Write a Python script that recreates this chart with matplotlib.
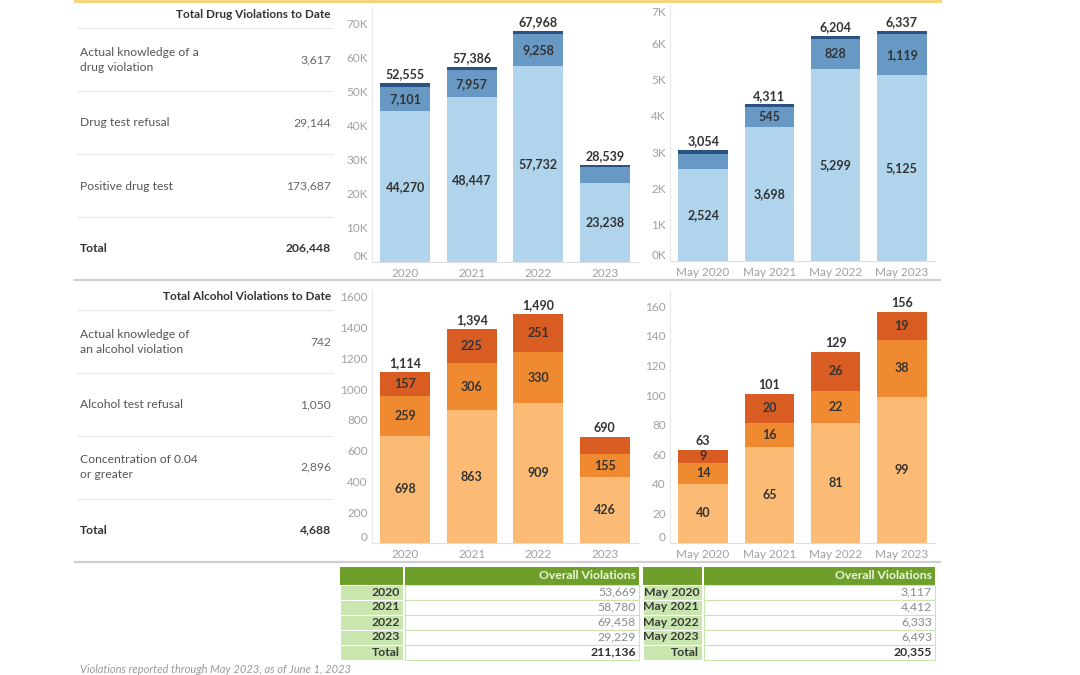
import matplotlib.pyplot as plt
import numpy as np
from matplotlib.patches import Rectangle
from matplotlib.ticker import FuncFormatter

plt.rcParams['font.family'] = ['Lato', 'DejaVu Sans']

# ---- data ----
years = ['2020', '2021', '2022', '2023']
months = ['May 2020', 'May 2021', 'May 2022', 'May 2023']

drug_positive = [44270, 48447, 57732, 23238]
drug_refusal = [7101, 7957, 9258, 4828]
drug_knowledge = [1184, 982, 978, 473]

may_drug_positive = [2524, 3698, 5299, 5125]
may_drug_refusal = [435, 545, 828, 1119]
may_drug_knowledge = [95, 68, 77, 93]

alc_concentration = [698, 863, 909, 426]
alc_refusal = [259, 306, 330, 155]
alc_knowledge = [157, 225, 251, 109]

may_alc_concentration = [40, 65, 81, 99]
may_alc_refusal = [14, 16, 22, 38]
may_alc_knowledge = [9, 20, 26, 19]

drug_rows = ['Actual knowledge of a\ndrug violation', 'Drug test refusal', 'Positive drug test']
alc_rows = ['Actual knowledge of\nan alcohol violation', 'Alcohol test refusal',
            'Concentration of 0.04\nor greater']

blues = ['#afd4eb', '#6899c4', '#2a5283']
oranges = ['#fbbb74', '#f08a30', '#d95c23']
dark_green = '#6e9f2a'
light_green = '#c8e6ad'

W, H = 1080, 675
fig = plt.figure(figsize=(W / 100, H / 100), dpi=100)

# full-figure overlay in pixel coords for tables and rules
bg = fig.add_axes([0, 0, 1, 1])
bg.set_xlim(0, W)
bg.set_ylim(H, 0)
bg.axis('off')


def px_axes(left, top, right, bottom):
    return fig.add_axes([left / W, 1 - bottom / H, (right - left) / W, (bottom - top) / H])


def draw_stack(ax, cats, series, colors, ylim, step, fmt, hidden):
    x = np.arange(len(cats))
    bottom = np.zeros(len(cats))
    for si, (vals, col) in enumerate(zip(series, colors)):
        vals = np.array(vals, dtype=float)
        ax.bar(x, vals, 0.75, bottom=bottom, color=col, linewidth=0)
        for bi, v in enumerate(vals):
            if (si, bi) in hidden:
                continue
            ax.text(x[bi], bottom[bi] + v / 2, f'{int(v):,}', ha='center', va='center',
                    fontsize=9, color='#333333', fontweight='bold')
        bottom += vals
    for bi, t in enumerate(bottom):
        ax.annotate(f'{int(t):,}', (x[bi], t), xytext=(0, 2), textcoords='offset points',
                    ha='center', va='bottom', fontsize=9, color='#333333', fontweight='bold')
    ax.set_xlim(-0.5, len(cats) - 0.5)
    ax.set_ylim(0, ylim)
    ax.set_xticks(x)
    ax.set_xticklabels(cats)
    ax.set_yticks(np.arange(0, ylim, step))
    ax.yaxis.set_major_formatter(FuncFormatter(fmt))
    for s in ['top', 'right']:
        ax.spines[s].set_visible(False)
    ax.spines['left'].set_color('#e8e8e8')
    ax.spines['bottom'].set_color('#e0e0e0')
    ax.tick_params(length=0, colors='#a0a0a0', labelsize=8.5)
    ax.tick_params(axis='y', pad=3)
    ax.tick_params(axis='x', pad=4)
    # Tableau nudges the zero label up off the baseline
    ax.get_yticklabels()[0].set_va('bottom')
    ax.patch.set_alpha(0)


kfmt = lambda v, p: f'{v / 1000:.0f}K'
plain = lambda v, p: f'{v:.0f}'

ax1 = px_axes(372, 7, 638, 262)
draw_stack(ax1, years, [drug_positive, drug_refusal, drug_knowledge], blues, 75000, 10000, kfmt,
           {(1, 3)} | {(2, i) for i in range(4)})
ax2 = px_axes(670, 5, 935, 261)
draw_stack(ax2, months, [may_drug_positive, may_drug_refusal, may_drug_knowledge], blues, 7050, 1000,
           kfmt, {(1, 0)} | {(2, i) for i in range(4)})
ax2.get_yticklabels()[-1].set_va('top')
ax3 = px_axes(372, 290, 638, 543)
draw_stack(ax3, years, [alc_concentration, alc_refusal, alc_knowledge], oranges, 1645, 200, plain,
           {(2, 3)})
ax4 = px_axes(670, 290, 935, 543)
draw_stack(ax4, months, [may_alc_concentration, may_alc_refusal, may_alc_knowledge], oranges, 171, 20,
           plain, set())

# rules
bg.plot([75, 940], [1, 1], color='#f6d370', lw=2)
bg.plot([75, 940], [279.5, 279.5], color='#cfcfcf', lw=1.6)
bg.plot([75, 940], [561.5, 561.5], color='#cfcfcf', lw=1.6)


def text_table(title, title_y, rows, row_vals, seps, row_ys, total_y):
    bg.text(331, title_y, title, ha='right', va='center', fontsize=8.5, fontweight='bold', color='#333333')
    for s in seps:
        bg.plot([77, 333], [s, s], color='#ebebeb', lw=1)
    for lab, v, y in zip(rows, row_vals, row_ys):
        bg.text(80, y, lab, ha='left', va='center', fontsize=8.7, color='#555555', linespacing=1.35)
        bg.text(331, y, f'{v:,}', ha='right', va='center', fontsize=8.7, color='#666666')
    bg.text(80, total_y, 'Total', ha='left', va='center', fontsize=8.7, fontweight='bold', color='#333333')
    bg.text(331, total_y, f'{sum(row_vals):,}', ha='right', va='center', fontsize=8.7,
            fontweight='bold', color='#333333')


text_table('Total Drug Violations to Date', 15, drug_rows,
           [sum(drug_knowledge), sum(drug_refusal), sum(drug_positive)],
           [28, 91, 154, 217], [60, 123, 186], 248)
text_table('Total Alcohol Violations to Date', 297, alc_rows,
           [sum(alc_knowledge), sum(alc_refusal), sum(alc_concentration)],
           [310, 373, 436, 499], [342, 405, 467], 530)

overall_year = [a + b + c + d + e + f for a, b, c, d, e, f in
                zip(drug_positive, drug_refusal, drug_knowledge, alc_concentration, alc_refusal, alc_knowledge)]
overall_may = [a + b + c + d + e + f for a, b, c, d, e, f in
               zip(may_drug_positive, may_drug_refusal, may_drug_knowledge,
                   may_alc_concentration, may_alc_refusal, may_alc_knowledge)]


def green_table(x0, x1, x2, x3, labels, values):
    top, hh, rh = 567, 17.5, 15
    bg.add_patch(Rectangle((x0, top), x1 - x0, hh, fc=dark_green, ec='none'))
    bg.add_patch(Rectangle((x2, top), x3 - x2, hh, fc=dark_green, ec='none'))
    bg.text(x3 - 3, top + hh / 2, 'Overall Violations', ha='right', va='center', fontsize=8.7,
            fontweight='bold', color='#eef5e2')
    rows = labels + ['Total']
    vals = values + [sum(values)]
    for i, (lab, v) in enumerate(zip(rows, vals)):
        y = top + hh + i * rh
        last = i == len(rows) - 1
        bg.add_patch(Rectangle((x0, y), x1 - x0, rh, fc=light_green, ec='white', lw=0.8))
        bg.add_patch(Rectangle((x2, y), x3 - x2, rh, fc='white', ec=light_green, lw=0.8))
        bg.text(x1 - 3, y + rh / 2, lab, ha='right', va='center', fontsize=8.8,
                fontweight='bold', color='#3a3a3a')
        bg.text(x3 - 3, y + rh / 2, f'{v:,}', ha='right', va='center', fontsize=8.8,
                fontweight='bold' if last else 'normal', color='#333333' if last else '#8a8a8a')


green_table(340, 403, 405, 639, years, overall_year)
green_table(643, 702, 704, 935, months, overall_may)

bg.text(80, 673, 'Violations reported through May 2023, as of June 1, 2023', ha='left', va='baseline',
        fontsize=8, style='italic', color='#999999')

fig.savefig('out.png', dpi=100)
